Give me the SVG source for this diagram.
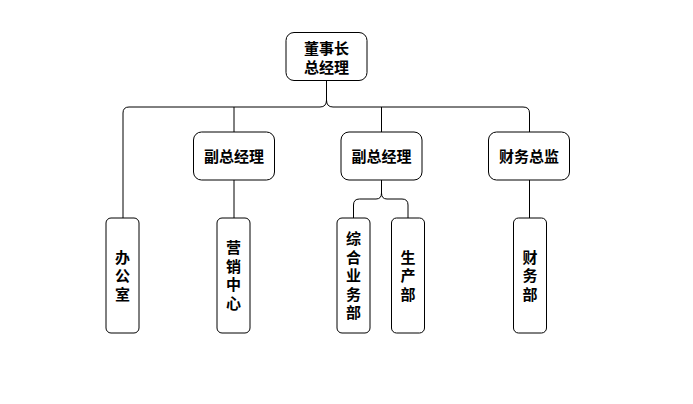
<svg xmlns="http://www.w3.org/2000/svg" width="693" height="404" viewBox="0 0 693 404">
<style>
.box{fill:#fff;stroke:#000;stroke-width:1}
.ln{fill:none;stroke:#000;stroke-width:1}
text{font-family:"Noto Sans CJK SC","Noto Sans",sans-serif;font-size:15px;font-weight:bold;fill:#000;text-anchor:middle}
.v{writing-mode:vertical-rl;letter-spacing:3.5px}
</style>
<rect width="693" height="404" fill="#fff"/>
<g id="connectors">
<path class="ln" d="M326.5 81 V100 Q326.5 107 320 107 H129 Q123 107 123 113 V218"/>
<path class="ln" d="M326.5 100 Q326.5 107 333 107 H523 Q529.5 107 529.5 113 V132"/>
<path class="ln" d="M234 107 V132"/>
<path class="ln" d="M381.5 107 V132"/>
<path class="ln" d="M234 180 V218"/>
<path class="ln" d="M529.5 180 V218"/>
<path class="ln" d="M381.5 180 V193 Q381.5 199 376 199 H359.5 Q353.5 199 353.5 205 V218"/>
<path class="ln" d="M381.5 193 Q381.5 199 387 199 H402 Q408 199 408 205 V218"/>
</g>
<g id="ceo">
<rect class="box" x="286" y="32.5" width="81" height="48" rx="8"/>
<text x="326.5" y="54">董事长</text>
<text x="326.5" y="72.5">总经理</text>
</g>
<g id="vp1">
<rect class="box" x="193.5" y="132" width="81" height="48" rx="8"/>
<text x="234" y="161.5">副总经理</text>
</g>
<g id="vp2">
<rect class="box" x="341" y="132" width="81" height="48" rx="8"/>
<text x="381.5" y="161.5">副总经理</text>
</g>
<g id="cfo">
<rect class="box" x="488.5" y="132" width="81" height="48" rx="8"/>
<text x="529" y="161.5">财务总监</text>
</g>
<g id="office">
<rect class="box" x="106" y="218" width="33" height="115" rx="5"/>
<text class="v" x="122.5" y="277.25">办公室</text>
</g>
<g id="marketing">
<rect class="box" x="217" y="218" width="33" height="115" rx="5"/>
<text class="v" x="233.5" y="277.25">营销中心</text>
</g>
<g id="general">
<rect class="box" x="337" y="218" width="33" height="115" rx="5"/>
<text class="v" x="353.5" y="277.25">综合业务部</text>
</g>
<g id="production">
<rect class="box" x="391.5" y="218" width="33" height="115" rx="5"/>
<text class="v" x="408" y="277.25">生产部</text>
</g>
<g id="finance">
<rect class="box" x="513.5" y="218" width="33" height="115" rx="5"/>
<text class="v" x="530" y="277.25">财务部</text>
</g>
</svg>
